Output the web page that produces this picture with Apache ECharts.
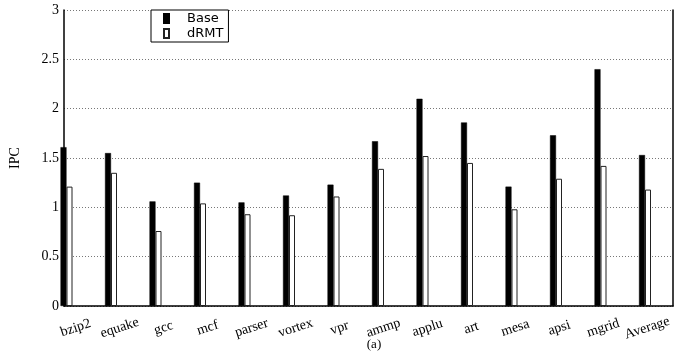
<!DOCTYPE html>
<html>
<head>
<meta charset="utf-8">
<script src="https://cdn.jsdelivr.net/npm/echarts@6/dist/echarts.min.js"></script>
<style>
  html, body { margin: 0; padding: 0; background: #fff; }
  #chart { width: 674px; height: 354px; }
</style>
</head>
<body>
<div id="chart"></div>
<script>
// Benchmarks on the x axis
var categories = ['bzip2', 'equake', 'gcc', 'mcf', 'parser', 'vortex', 'vpr',
  'ammp', 'applu', 'art', 'mesa', 'apsi', 'mgrid', 'Average'];
// IPC of the baseline processor
var baseIPC = [1.61, 1.55, 1.06, 1.25, 1.05, 1.12, 1.23, 1.67, 2.10, 1.86, 1.21, 1.73, 2.40, 1.53];
// IPC with dRMT
var drmtIPC = [1.21, 1.35, 0.76, 1.04, 0.93, 0.92, 1.11, 1.39, 1.52, 1.45, 0.98, 1.29, 1.42, 1.18];

var serif = 'Liberation Serif';
var sans = 'DejaVu Sans';
var plotTop = 10, plotHeight = 296;

var chart = echarts.init(document.getElementById('chart'), null, { renderer: 'canvas' });

chart.setOption({
  animation: false,
  backgroundColor: '#fff',
  grid: [
    // frame, gridlines and y axis
    { left: 58, right: 1, top: plotTop, height: plotHeight },
    // bars
    { left: 44.25, width: 623, top: plotTop, height: plotHeight },
    // category labels, nudged right of the bar groups
    { left: 53.75, width: 623, top: plotTop, height: plotHeight }
  ],
  legend: {
    orient: 'vertical',
    left: 151,
    top: 10,
    padding: [2, 5, 2, 12],
    itemGap: 2,
    itemWidth: 5,
    itemHeight: 9,
    borderColor: '#000',
    borderWidth: 1,
    borderRadius: 0,
    backgroundColor: '#fff',
    icon: 'rect',
    textStyle: { fontFamily: sans, fontSize: 13, lineHeight: 12, color: '#000', padding: [0, 0, 0, 13] },
    data: ['Base', 'dRMT']
  },
  xAxis: [
    {
      gridIndex: 0, type: 'category', data: categories,
      axisLine: { lineStyle: { color: '#000', width: 1.5 } },
      axisTick: { show: false }, axisLabel: { show: false }, splitLine: { show: false }
    },
    {
      gridIndex: 1, type: 'category', data: categories, show: false
    },
    {
      gridIndex: 2, type: 'category', data: categories,
      axisLine: { show: false }, axisTick: { show: false }, splitLine: { show: false },
      axisLabel: {
        interval: 0, rotate: 18, margin: 22,
        align: 'center', verticalAlign: 'middle',
        fontFamily: serif, fontSize: 14, color: '#000'
      }
    }
  ],
  yAxis: [
    {
      gridIndex: 0, type: 'value', min: 0, max: 3, interval: 0.5,
      name: 'IPC', nameLocation: 'middle', nameRotate: 90, nameGap: 42,
      nameTextStyle: { fontFamily: serif, fontSize: 14, color: '#000' },
      axisLine: { show: true, lineStyle: { color: '#000', width: 1.5 } },
      axisTick: { show: false },
      axisLabel: { margin: 5, fontFamily: serif, fontSize: 14, color: '#000' },
      splitLine: { show: true, lineStyle: { color: '#777', type: [1, 2], width: 1 } }
    },
    {
      gridIndex: 0, type: 'value', min: 0, max: 3, interval: 0.5, position: 'right',
      axisLine: { show: true, lineStyle: { color: '#000', width: 1.5 } },
      axisTick: { show: false }, axisLabel: { show: false }, splitLine: { show: false }
    },
    {
      gridIndex: 1, type: 'value', min: 0, max: 3, show: false
    },
    {
      gridIndex: 2, type: 'value', min: 0, max: 3, show: false
    }
  ],
  series: [
    {
      name: 'Base', type: 'bar', xAxisIndex: 1, yAxisIndex: 2,
      data: baseIPC, barWidth: 6, barGap: '0%',
      itemStyle: { color: '#000', borderColor: '#000', borderWidth: 0.5 }
    },
    {
      name: 'dRMT', type: 'bar', xAxisIndex: 1, yAxisIndex: 2,
      data: drmtIPC, barWidth: 6, barGap: '0%',
      itemStyle: { color: '#fff', borderColor: '#222', borderWidth: 1 }
    }
  ],
  graphic: [
    {
      type: 'text', x: 374, y: 345,
      style: {
        text: '(a)', fontFamily: serif, fontSize: 13, fill: '#000',
        textAlign: 'center', textVerticalAlign: 'middle'
      }
    }
  ]
});
</script>
</body>
</html>
